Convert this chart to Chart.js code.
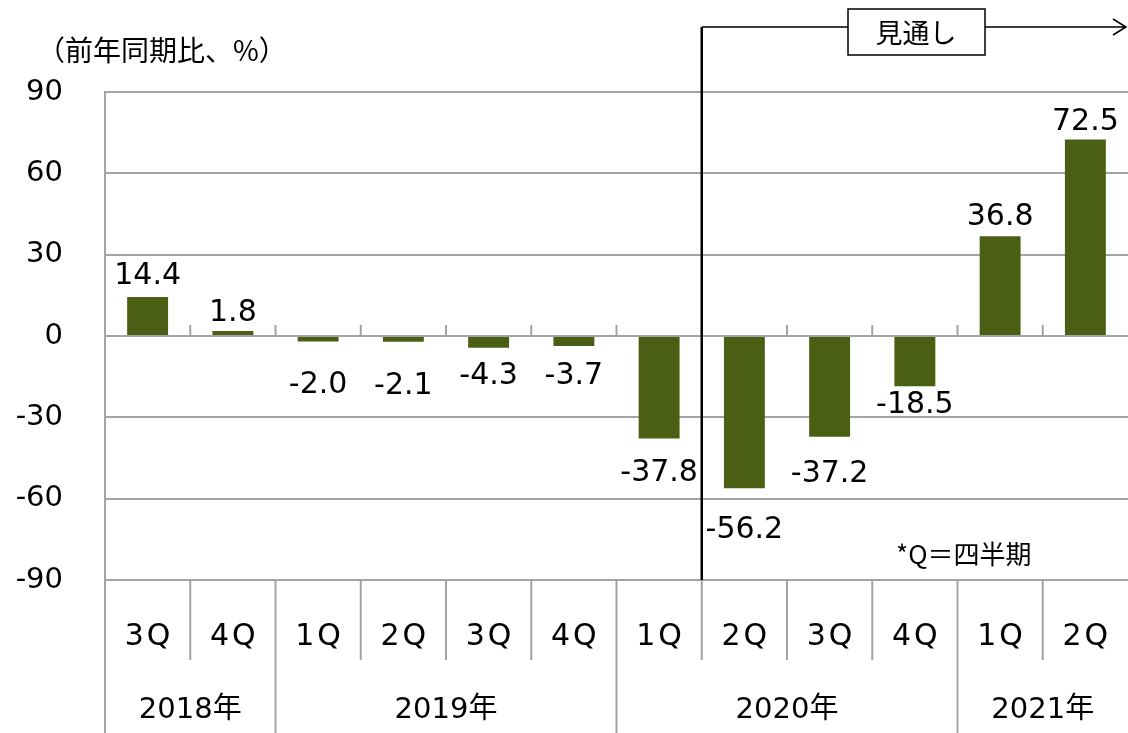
<!DOCTYPE html>
<html>
<head>
<meta charset="utf-8">
<script src="https://cdn.jsdelivr.net/npm/chart.js@4.4.1/dist/chart.umd.min.js"></script>
<style>
  html, body { margin: 0; padding: 0; background: #fff; }
  #c { display: block; }
</style>
</head>
<body>
<canvas id="c" width="1128" height="733"></canvas>
<script>
// quarter labels and YoY values (%)
const categories = ['3Q', '4Q', '1Q', '2Q', '3Q', '4Q', '1Q', '2Q', '3Q', '4Q', '1Q', '2Q'];
const values = [14.4, 1.8, -2.0, -2.1, -4.3, -3.7, -37.8, -56.2, -37.2, -18.5, 36.8, 72.5];
const years = ['2018年', '2019年', '2020年', '2021年'];
const quartersPerYear = [2, 4, 4, 2];
const yTicks = [-90, -60, -30, 0, 30, 60, 90];
const forecastStart = 7; // first forecast quarter (2020 2Q)

const gridColor = '#a3a3a3';
const numFont = "'DejaVu Sans', 'Noto Sans CJK JP', sans-serif";
const jpFont = "'Noto Sans CJK JP', sans-serif";

// vertical gap between bar end and its label, px
const labelGap = [13, 10, 30, 30, 14, 16, 21, 28, 23, 5, 11, 9];

const overlay = {
  id: 'overlay',
  afterDraw(chart) {
    const ctx = chart.ctx;
    const a = chart.chartArea;
    const x = chart.scales.x;
    const y = chart.scales.y;
    const H = chart.height;
    const n = categories.length;
    const bound = (i) => {
      if (i <= 0) return a.left;
      if (i >= n) return a.right;
      return (x.getPixelForValue(i - 1) + x.getPixelForValue(i)) / 2;
    };

    ctx.save();
    ctx.strokeStyle = gridColor;
    ctx.lineWidth = 2;

    // small ticks on the zero line
    const y0 = y.getPixelForValue(0);
    ctx.beginPath();
    for (let i = 1; i < n; i++) {
      const bx = bound(i);
      ctx.moveTo(bx, y0);
      ctx.lineTo(bx, y0 - 11);
    }
    ctx.stroke();

    // quarter row separators
    ctx.beginPath();
    for (let i = 1; i < n; i++) {
      const bx = bound(i);
      ctx.moveTo(bx, a.bottom);
      ctx.lineTo(bx, a.bottom + 80);
    }
    // year separators + left axis extension
    let start = 0;
    const spans = [];
    quartersPerYear.forEach((q) => {
      spans.push([start, start + q]);
      const bx = bound(start);
      ctx.moveTo(bx, a.bottom);
      ctx.lineTo(bx, H);
      start += q;
    });
    ctx.stroke();

    // year labels
    ctx.fillStyle = '#000';
    ctx.font = '29px ' + numFont;
    ctx.textAlign = 'center';
    ctx.textBaseline = 'middle';
    spans.forEach((s, k) => {
      ctx.fillText(years[k], (bound(s[0]) + bound(s[1])) / 2, a.bottom + 130);
    });

    // data labels
    ctx.font = '30px ' + numFont;
    ctx.textBaseline = 'alphabetic';
    const asc = ctx.measureText('0').actualBoundingBoxAscent;
    const meta = chart.getDatasetMeta(0);
    meta.data.forEach((bar, i) => {
      const v = values[i];
      const txt = v.toFixed(1);
      if (v >= 0) {
        ctx.fillText(txt, bar.x, bar.y - labelGap[i]);
      } else {
        ctx.fillText(txt, bar.x, bar.y + labelGap[i] + asc);
      }
    });

    // forecast marker
    const fx = bound(forecastStart);
    const topY = 27;
    ctx.strokeStyle = '#000';
    ctx.lineWidth = 2.5;
    ctx.beginPath();
    ctx.moveTo(fx, topY);
    ctx.lineTo(fx, a.bottom);
    ctx.stroke();
    ctx.lineWidth = 1.5;
    ctx.beginPath();
    ctx.moveTo(fx, topY);
    ctx.lineTo(1126, topY);
    ctx.moveTo(1113, topY - 8);
    ctx.lineTo(1126, topY);
    ctx.lineTo(1113, topY + 8);
    ctx.stroke();
    ctx.fillStyle = '#fff';
    ctx.fillRect(848, 9, 137, 46);
    ctx.strokeRect(848, 9, 137, 46);
    ctx.fillStyle = '#000';
    ctx.font = '27px ' + jpFont;
    ctx.textBaseline = 'middle';
    ctx.fillText('見通し', 916, 33);

    // unit and note
    ctx.textAlign = 'left';
    ctx.font = '28px ' + jpFont;
    ctx.fillText('（前年同期比、%）', 37, 50);
    ctx.font = '26px ' + jpFont;
    ctx.fillText('*Q＝四半期', 896, 554);
    ctx.restore();
  }
};

new Chart(document.getElementById('c'), {
  type: 'bar',
  data: {
    labels: categories,
    datasets: [{
      data: values,
      backgroundColor: '#4a5f13',
      borderWidth: 0,
      barPercentage: 0.48,
      categoryPercentage: 1.0
    }]
  },
  options: {
    responsive: false,
    animation: false,
    devicePixelRatio: 1,
    layout: { padding: { top: 92, left: 0, right: 0, bottom: 0 } },
    plugins: {
      legend: { display: false },
      tooltip: { enabled: false }
    },
    scales: {
      x: {
        grid: { display: false },
        border: { display: false },
        ticks: {
          color: '#000',
          font: { family: numFont, size: 30 },
          padding: 31,
          maxRotation: 0,
          autoSkip: false,
          callback: (v, i) => categories[i].split('').join('\u200a')
        },
        afterFit: (s) => {
          s.height = 153;
          s.paddingLeft = 0;
          s.paddingRight = 0;
        }
      },
      y: {
        min: -90,
        max: 90,
        afterBuildTicks: (s) => { s.ticks = yTicks.map((v) => ({ value: v })); },
        grid: { color: gridColor, lineWidth: 2, drawTicks: false },
        border: { display: true, color: gridColor, width: 2 },
        ticks: {
          color: '#000',
          font: { family: numFont, size: 29 },
          padding: 42
        },
        afterFit: (s) => {
          s.width = 105;
          s.paddingTop = 0;
          s.paddingBottom = 0;
        }
      }
    }
  },
  plugins: [overlay]
});
</script>
</body>
</html>
